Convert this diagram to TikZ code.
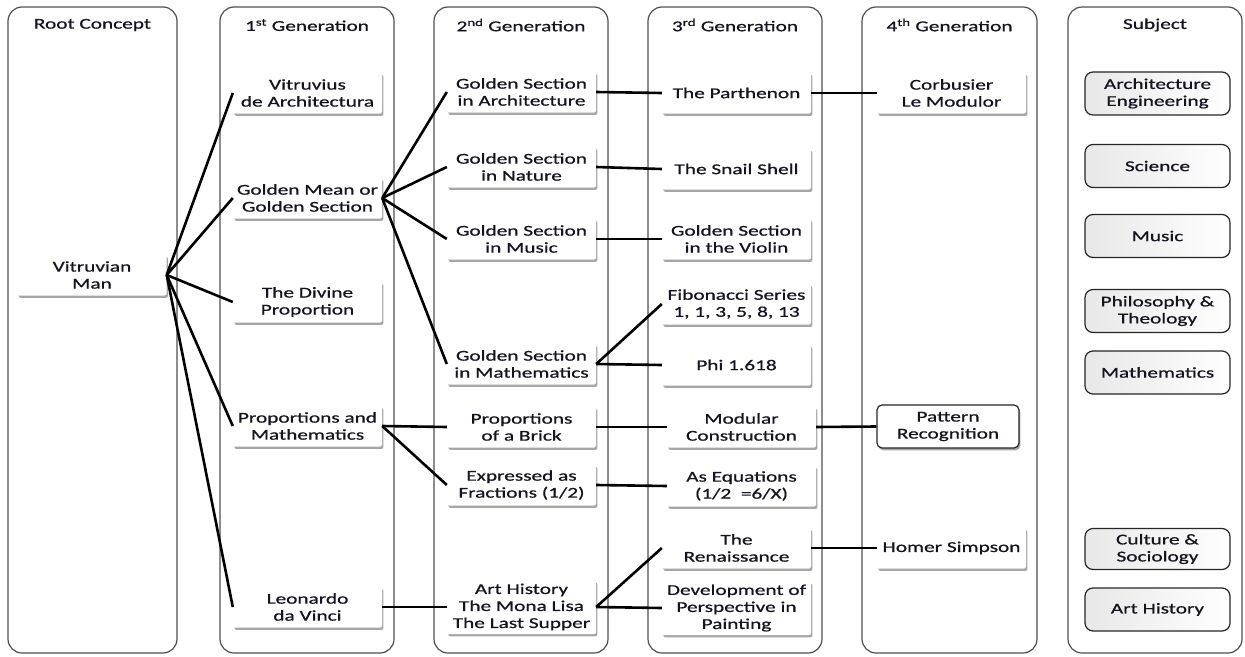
\documentclass[tikz,border=0pt]{standalone}
\usepackage{fontspec}
\setmainfont{Carlito}[FakeStretch=1.42, FakeBold=0.7]
\usetikzlibrary{shadows}
\definecolor{txt}{HTML}{141420}
\definecolor{colline}{HTML}{505050}
\tikzset{
  column/.style={draw=colline, line width=1.2pt, rounded corners=14pt, fill=white},
  header/.style={font=\fontsize{15}{17}\selectfont, text=txt},
  box/.style={fill=white, rounded corners=2pt, minimum width=149pt, minimum height=41pt,
    align=center, font=\fontsize{15}{17}\selectfont, text=txt, inner sep=1pt,
    drop shadow={shadow xshift=1.4pt, shadow yshift=-2.4pt, opacity=0.35, fill=black}},
  framedbox/.style={box, draw=black!85, line width=1.2pt, rounded corners=5pt},
  subj/.style={draw=black!85, line width=1.2pt, rounded corners=8pt, minimum width=145pt,
    minimum height=43pt, align=center, font=\fontsize{15}{17}\selectfont, text=txt,
    left color=black!9, right color=white, inner sep=1pt},
  link/.style={line width=2.6pt, black},
}
\begin{document}
\begin{tikzpicture}[x=1pt, y=-1pt]
\useasboundingbox (0,0) rectangle (1245,656);
% columns
\draw[column] (8,7) rectangle (177,653);
\draw[column] (220,7) rectangle (394,653);
\draw[column] (434,7) rectangle (608,653);
\draw[column] (648,7) rectangle (822,653);
\draw[column] (862,7) rectangle (1037,653);
\draw[column] (1068,7) rectangle (1242,653);
% headers
\node[header] (h0) at (92.5,25) {Root Concept};
\node[header] (h1) at (307,25) {1\textsuperscript{st} Generation};
\node[header] (h2) at (521,25) {2\textsuperscript{nd} Generation};
\node[header] (h3) at (735,25) {3\textsuperscript{rd} Generation};
\node[header] (h4) at (949.5,25) {4\textsuperscript{th} Generation};
\node[header] (h5) at (1155,25) {Subject};
% root
\node[box] (vm) at (92,275) {Vitruvian\\Man};
% 1st generation
\node[box] (g1a) at (307.5,93) {Vitruvius\\de Architectura};
\node[box] (g1b) at (307.5,198) {Golden Mean or\\Golden Section};
\node[box] (g1c) at (307.5,302) {The Divine\\Proportion};
\node[box] (g1d) at (307.5,426) {Proportions and\\Mathematics};
\node[box] (g1e) at (307.5,607) {Leonardo\\da Vinci};
% 2nd generation
\node[box] (g2a) at (521.5,92) {Golden Section\\in Architecture};
\node[box] (g2b) at (521.5,167) {Golden Section\\in Nature};
\node[box] (g2c) at (521.5,239) {Golden Section\\in Music};
\node[box] (g2d) at (521.5,364) {Golden Section\\in Mathematics};
\node[box] (g2e) at (521.5,427) {Proportions\\of a Brick};
\node[box] (g2f) at (521.5,485) {Expressed as\\Fractions (1/2)};
\node[box, minimum height=54pt] (g2g) at (521.5,607) {Art History\\The Mona Lisa\\The Last Supper};
% 3rd generation
\node[box] (g3a) at (736.5,93) {The Parthenon};
\node[box] (g3b) at (736.5,169) {The Snail Shell};
\node[box] (g3c) at (736.5,239) {Golden Section\\in the Violin};
\node[box] (g3d) at (736.5,304) {Fibonacci Series\\1, 1, 3, 5, 8, 13};
\node[box] (g3e) at (736.5,365) {Phi 1.618};
\node[box] (g3f) at (741.5,427) {Modular\\Construction};
\node[box] (g3g) at (741.5,486) {As Equations\\(1/2\ \ =6/X)};
\node[box] (g3h) at (736.5,548) {The\\Renaissance};
\node[box, minimum height=54pt] (g3i) at (736.5,608) {Development of\\Perspective in\\Painting};
% 4th generation
\node[box] (g4a) at (951.5,93) {Corbusier\\Le Modulor};
\node[framedbox, minimum width=142pt, minimum height=43pt] (g4b) at (948,426.5) {Pattern\\Recognition};
\node[box] (g4c) at (951.5,548) {Homer Simpson};
% subjects
\node[subj] (s1) at (1157.5,93.5) {Architecture\\Engineering};
\node[subj] (s2) at (1157.5,166) {Science};
\node[subj] (s3) at (1157.5,236) {Music};
\node[subj] (s4) at (1157.5,311) {Philosophy \&\\Theology};
\node[subj] (s5) at (1157.5,372.5) {Mathematics};
\node[subj, minimum height=41pt] (s6) at (1157.5,549) {Culture \&\\Sociology};
\node[subj] (s7) at (1157.5,609.5) {Art History};
% connectors
\foreach \t in {g1a,g1b,g1c,g1d,g1e} \draw[link] (vm.east) -- (\t.west);
\foreach \t in {g2a,g2b,g2c,g2d} \draw[link] (g1b.east) -- (\t.west);
\foreach \t in {g2e,g2f} \draw[link] (g1d.east) -- (\t.west);
\draw[link] (g1e.east) -- (g2g.west);
\draw[link] (g2a.east) -- (g3a.west);
\draw[link] (g2b.east) -- (g3b.west);
\draw[link] (g2c.east) -- (g3c.west);
\draw[link] (g2d.east) -- (g3d.west);
\draw[link] (g2d.east) -- (g3e.west);
\draw[link] (g2e.east) -- (g3f.west);
\draw[link] (g2f.east) -- (g3g.west);
\draw[link] (g2g.east) -- (g3h.west);
\draw[link] (g2g.east) -- (g3i.west);
\draw[link] (g3a.east) -- (g4a.west);
\draw[link] (g3f.east) -- (g4b.west);
\draw[link] (g3h.east) -- (g4c.west);
\end{tikzpicture}
\end{document}
